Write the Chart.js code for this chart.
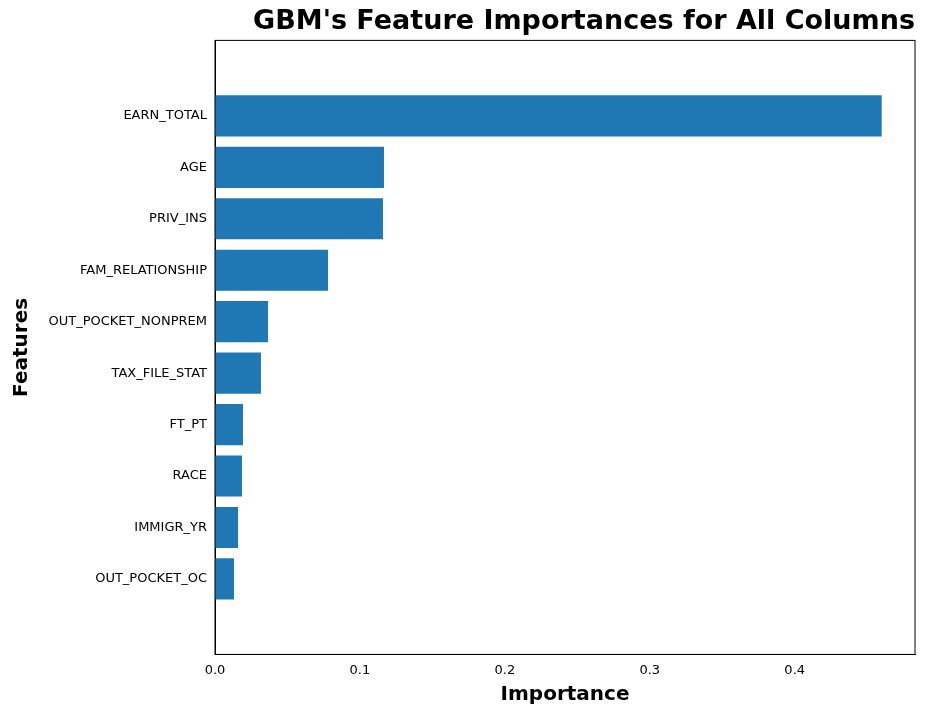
<!DOCTYPE html>
<html>
<head>
<meta charset="utf-8">
<script src="https://cdn.jsdelivr.net/npm/chart.js@4"></script>
<style>
  body { margin: 0; background: #fff; }
  #wrap { width: 925px; height: 715px; }
</style>
</head>
<body>
<div id="wrap"><canvas id="chart"></canvas></div>
<script>
const features = ['EARN_TOTAL', 'AGE', 'PRIV_INS', 'FAM_RELATIONSHIP', 'OUT_POCKET_NONPREM',
    'TAX_FILE_STAT', 'FT_PT', 'RACE', 'IMMIGR_YR', 'OUT_POCKET_OC'];
const importances = [0.460, 0.1166, 0.1159, 0.078, 0.0366, 0.0317, 0.0193, 0.0186, 0.0159, 0.0131];
const xTicks = [0, 0.1, 0.2, 0.3, 0.4];

Chart.defaults.font.family = 'DejaVu Sans';
Chart.defaults.color = '#000';

new Chart(document.getElementById('chart'), {
    type: 'bar',
    data: {
        datasets: [{
            data: importances.map((v, i) => ({ x: v, y: i })),
            backgroundColor: '#1f77b4',
            barPercentage: 0.8,
            categoryPercentage: 1.0
        }]
    },
    options: {
        indexAxis: 'y',
        responsive: true,
        maintainAspectRatio: false,
        animation: false,
        layout: { padding: { left: 8, right: 10, top: 6, bottom: 6 } },
        plugins: {
            legend: { display: false },
            tooltip: { enabled: false },
            title: {
                display: true,
                text: "GBM's Feature Importances for All Columns",
                font: { size: 27, weight: 'bold' },
                padding: { top: 0, bottom: 2 },
                align: 'end'
            }
        },
        scales: {
            x: {
                type: 'linear',
                min: 0,
                max: 0.483,
                afterBuildTicks: s => { s.ticks = xTicks.map(v => ({ value: v })); },
                ticks: { font: { size: 13 }, callback: v => v.toFixed(1) },
                grid: { display: false, tickLength: 5 },
                border: { color: '#000' },
                title: { display: true, text: 'Importance', font: { size: 20, weight: 'bold' }, padding: 2 }
            },
            y: {
                type: 'linear',
                reverse: true,
                min: -0.87,
                max: features.length - 1 + 0.87,
                afterBuildTicks: s => { s.ticks = features.map((f, i) => ({ value: i })); },
                ticks: { font: { size: 13 }, callback: v => features[v] },
                grid: { display: false, tickLength: 5 },
                border: { color: '#000' },
                title: { display: true, text: 'Features', font: { size: 20, weight: 'bold' }, padding: 2 },
                afterFit: s => { s.width = 207; }
            }
        }
    },
    plugins: [{
        id: 'frame',
        afterDraw(chart) {
            const a = chart.chartArea, c = chart.ctx;
            c.save();
            c.strokeStyle = '#000';
            c.lineWidth = 1;
            c.strokeRect(a.left, a.top, a.right - a.left, a.bottom - a.top);
            c.restore();
        }
    }]
});
</script>
</body>
</html>
